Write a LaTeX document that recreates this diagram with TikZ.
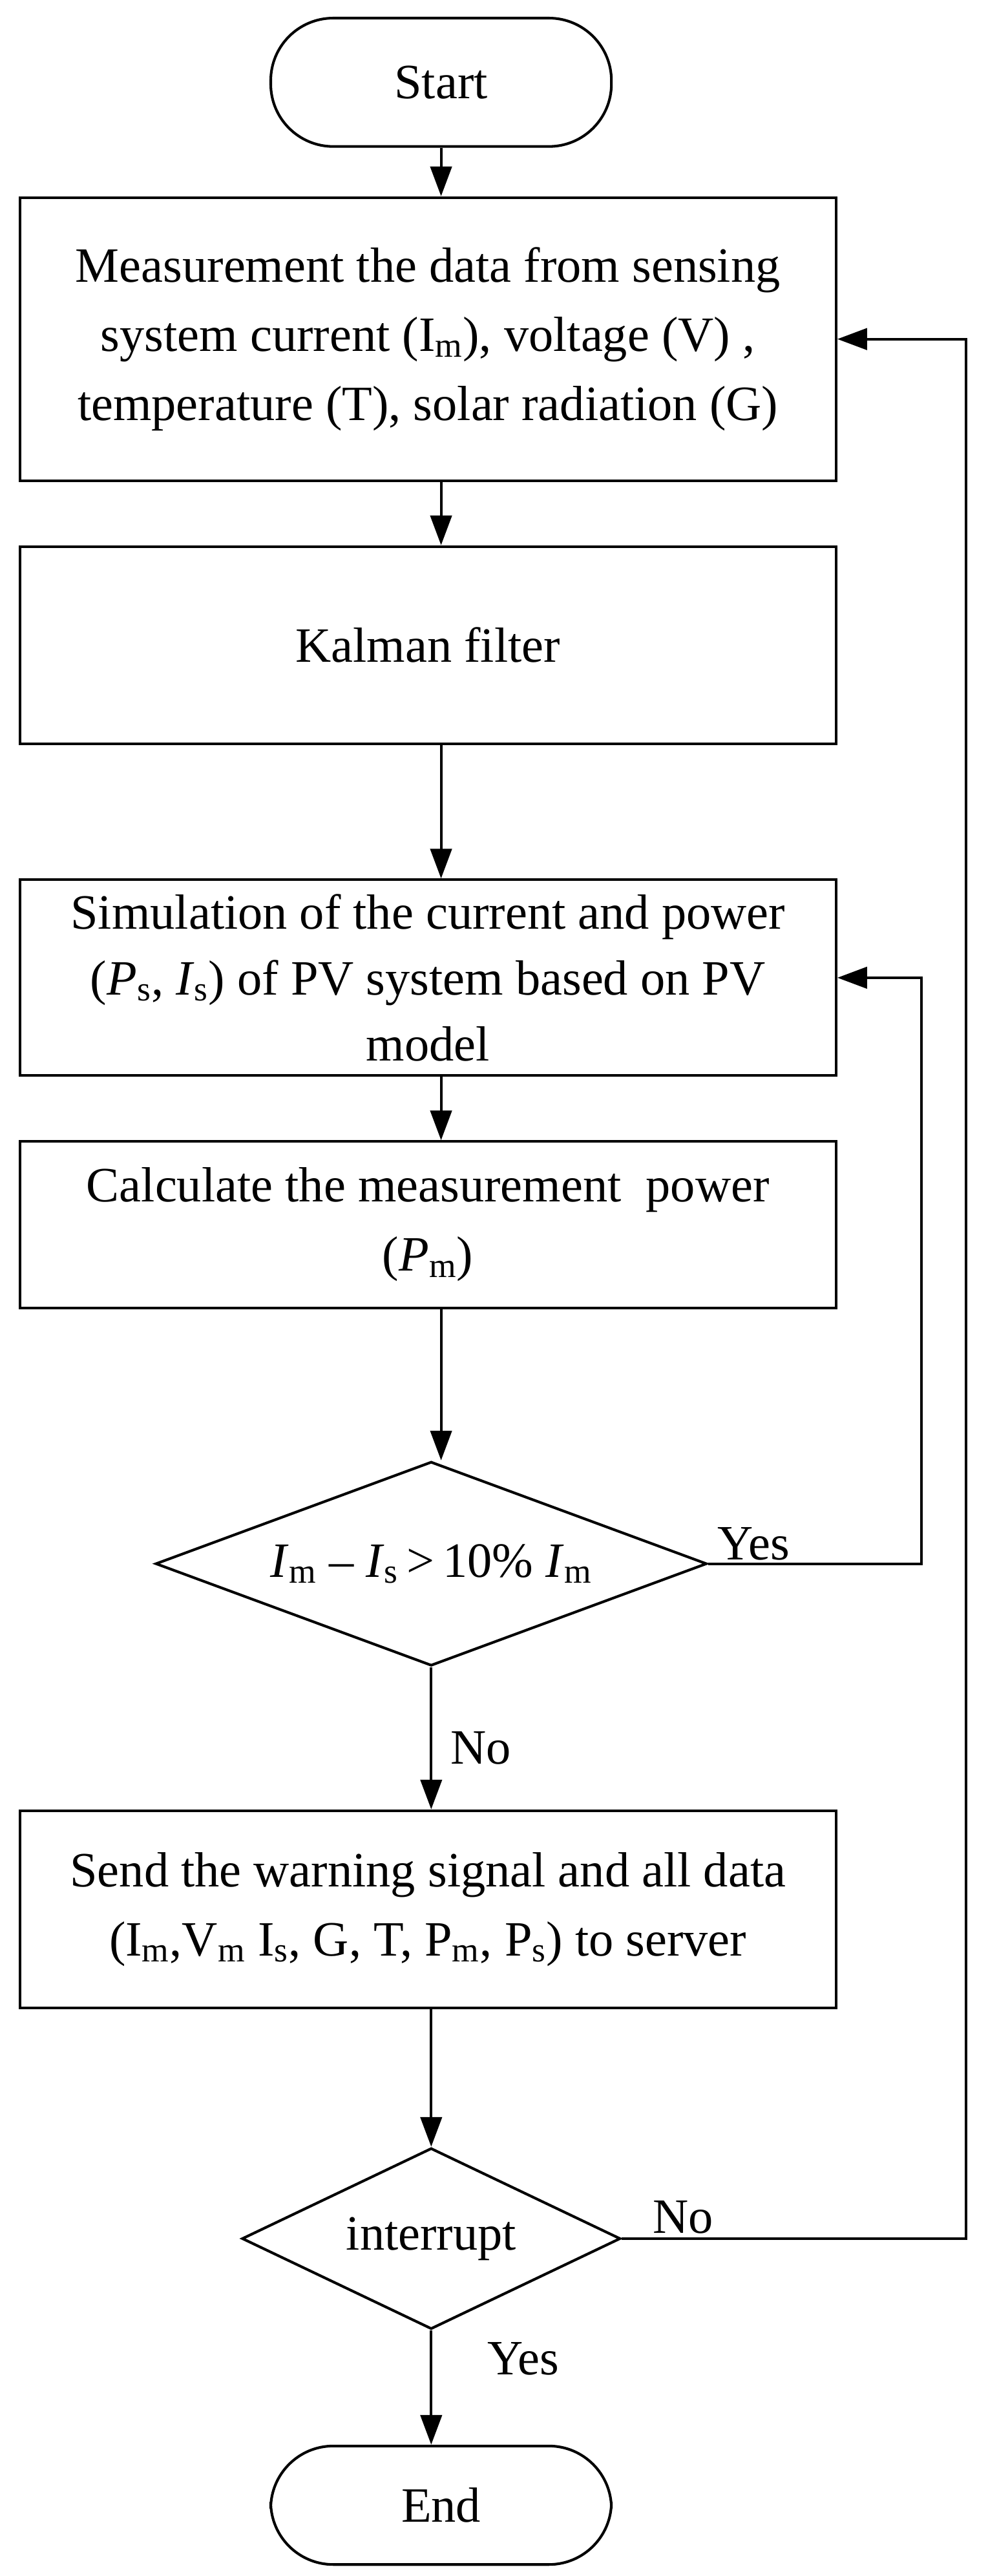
\documentclass[tikz,border=0pt]{standalone}
\usepackage{fontspec}
\setmainfont{Liberation Serif}
\usetikzlibrary{shapes.geometric,arrows.meta}
\tikzset{
  box/.style={draw,line width=1.6pt,minimum width=496pt,align=center,inner sep=0pt},
  term/.style={draw,line width=1.6pt,rounded corners=38pt,minimum width=207pt,minimum height=78pt},
  decide/.style={draw,line width=1.6pt,diamond,aspect=2.7,inner sep=0pt},
  line/.style={line width=1.6pt,-{Triangle[length=18pt,width=13pt]}},
}
\newcommand{\sub}[1]{\textsubscript{#1}}
\begin{document}
\begin{tikzpicture}[x=1pt,y=-1pt,font=\fontsize{30}{42}\selectfont]
	\useasboundingbox (0,0) rectangle (600,1565);

	% Terminals
	\node [term] (start) at (268,50) {Start};
	\node [term,minimum height=72pt] (stop) at (268,1522) {End};

	% Process boxes
	\node [box,minimum height=172pt] (meas) at (260,206) {Measurement the data from sensing\\system current (I\sub{m}), voltage (V) ,\\temperature (T), solar radiation (G)};
	\node [box,minimum height=120pt] (kal) at (260,392) {Kalman filter};
	\node [box,minimum height=119pt,font=\fontsize{30}{40}\selectfont] (sim) at (260,594) {Simulation of the current and power\\(\textit{P}\sub{s}, \textit{I}\sub{s}) of PV system based on PV\\model};
	\node [box,minimum height=101pt] (calc) at (260,744) {Calculate the measurement\ \ power\\(\textit{P}\sub{m})};
	\node [box,minimum height=120pt] (send) at (260,1160) {Send the warning signal and all data\\(I\sub{m},V\sub{m} I\sub{s}, G, T, P\sub{m}, P\sub{s}) to server};

	% Decisions
	\node [decide,minimum width=335pt,minimum height=124pt] (d1) at (262,950) {\textit{I}\sub{m} -- \textit{I}\sub{s}\,{>}\,10\% \textit{I}\sub{m}};
	\node [decide,minimum width=230pt,minimum height=110pt] (d2) at (262,1360) {interrupt};

	\coordinate (c1) at (560,950);
	\coordinate (c2) at (587,1360);

	% Connectors
	\draw [line] (start) -- (start|-meas.north);
	\draw [line] (meas.south-|start) -- (kal.north-|start);
	\draw [line] (kal.south-|start) -- (sim.north-|start);
	\draw [line] (sim.south-|start) -- (calc.north-|start);
	\draw [line] (calc.south-|start) -- (d1.north-|start);
	\draw [line] (d1) -- (send.north-|d1);
	\draw [line] (send.south-|d1) -- (d2);
	\draw [line] (d2) -- (stop.north-|d2);
	\draw [line] (d1.east) -- (c1) |- (sim.east);
	\draw [line] (d2.east) -- (c2) |- (meas.east);

	% Labels
	\node at (458,938) {Yes};
	\node at (292,1062) {No};
	\node at (415,1347) {No};
	\node at (318,1433) {Yes};
\end{tikzpicture}
\end{document}
